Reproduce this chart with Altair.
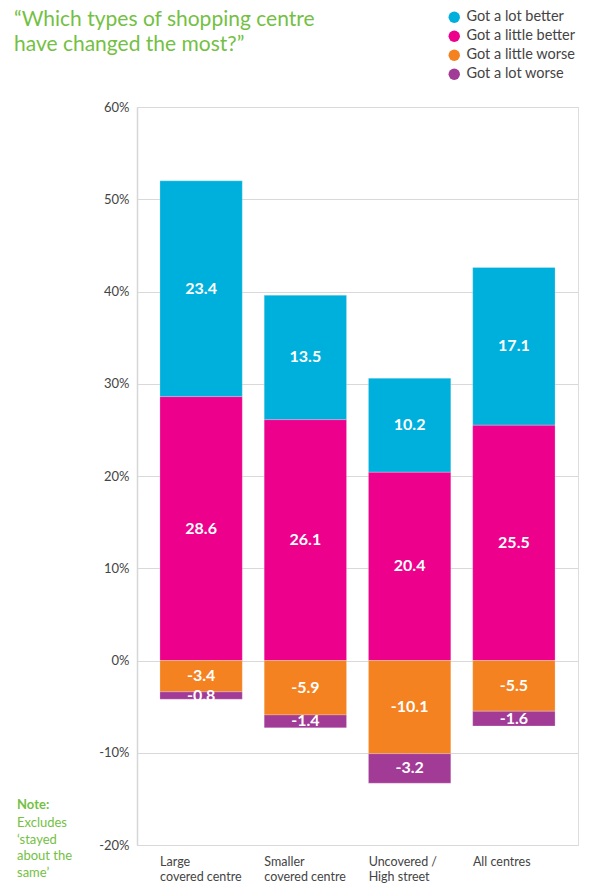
import altair as alt
import pandas as pd

# Shopping centre types and survey results (% of respondents)
centres = ["Large covered centre", "Smaller covered centre", "Uncovered / High street", "All centres"]
centre_lines = [["Large", "covered centre"], ["Smaller", "covered centre"],
                ["Uncovered /", "High street"], ["All centres"]]
series = ["Got a lot better", "Got a little better", "Got a little worse", "Got a lot worse"]
colors = ["#00B0DC", "#EC008C", "#F58220", "#A23B96"]
# stacking position away from zero within each sign
stack_rank = [2, 1, 1, 2]

lot_better = [23.4, 13.5, 10.2, 17.1]
little_better = [28.6, 26.1, 20.4, 25.5]
little_worse = [-3.4, -5.9, -10.1, -5.5]
lot_worse = [-0.8, -1.4, -3.2, -1.6]

title_lines = ["\u201cWhich types of shopping centre", "have changed the most?\u201d"]
note_lines = ["Excludes", "\u2018stayed", "about the", "same\u2019"]

values = [lot_better, little_better, little_worse, lot_worse]
rows = []
for s, name in enumerate(series):
    for c, centre in enumerate(centres):
        rows.append({"centre": centre, "series": name, "value": values[s][c], "rank": stack_rank[s]})
df = pd.DataFrame(rows)
single = pd.DataFrame({"k": [0]})

FONT = "Lato"
GREEN = "#74BF44"
GREY = "#444444"

label_map = ", ".join(
    "'{}': {}".format(c, "[" + ", ".join("'{}'".format(l) for l in lines) + "]")
    for c, lines in zip(centres, centre_lines)
)
x_label_expr = "{" + label_map + "}[datum.label]"

base = alt.Chart(df).transform_stack(
    stack="value", groupby=["centre"], as_=["y0", "y1"], sort=[alt.SortField("rank")]
).transform_calculate(mid="(datum.y0 + datum.y1) / 2", label="toString(datum.value)")

x_enc = alt.X(
    "centre:N", sort=centres, title=None,
    scale=alt.Scale(paddingInner=0.21, paddingOuter=0.22),
    axis=alt.Axis(labelAngle=0, labelAlign="left", labelOffset=-41, labelBaseline="top",
                  labelExpr=x_label_expr, labelFont=FONT, labelFontSize=12.5, labelColor=GREY,
                  labelLineHeight=15, labelPadding=10, domain=False, ticks=False),
)

bars = base.mark_bar(stroke="white", strokeWidth=0.4, strokeOpacity=0.6).encode(
    x=x_enc,
    y=alt.Y("y0:Q", title=None,
            scale=alt.Scale(domain=[-20, 60], nice=False),
            axis=alt.Axis(values=list(range(-20, 61, 10)), labelExpr="datum.value + '%'",
                          labelFont=FONT, labelFontSize=13, labelColor=GREY, labelPadding=8,
                          ticks=False, domainColor="#d6d6d6", gridColor="#d9d9d9",
                          domainWidth=1.5, gridWidth=1.2)),
    y2="y1:Q",
    color=alt.Color("series:N", scale=alt.Scale(domain=series, range=colors),
                    legend=alt.Legend(orient="none", legendX=310, legendY=-97, title=None,
                                      symbolType="circle", symbolSize=130, symbolStrokeWidth=0,
                                      symbolOpacity=1, labelFont=FONT, labelFontSize=14.5,
                                      labelColor=GREY, rowPadding=4, labelOffset=5)),
)

labels = base.mark_text(color="white", font=FONT, fontWeight="bold", fontSize=16).encode(
    x=alt.X("centre:N", sort=centres),
    y=alt.Y("mid:Q"),
    text="label:N",
)

title = alt.Chart(single).mark_text(
    align="left", baseline="alphabetic", font=FONT, fontSize=21, color=GREEN, lineHeight=25
).encode(x=alt.value(-123), y=alt.value(-81), text=alt.value(title_lines))

note_head = alt.Chart(single).mark_text(
    align="left", baseline="alphabetic", font=FONT, fontSize=13, fontWeight="bold", color=GREEN
).encode(x=alt.value(-120), y=alt.value(702), text=alt.value("Note:"))

note_body = alt.Chart(single).mark_text(
    align="left", baseline="alphabetic", font=FONT, fontSize=13, color=GREEN, lineHeight=16.5
).encode(x=alt.value(-120), y=alt.value(720), text=alt.value(note_lines))

chart = alt.layer(bars, labels, title, note_head, note_body).properties(
    width=441, height=738,
    padding={"left": 137, "top": 107, "right": 22, "bottom": 43},
    autosize=alt.AutoSizeParams(type="none"),
).configure_view(stroke=None).configure(background="white")

chart.save("out.html", embed_options={"renderer": "svg", "actions": False})
